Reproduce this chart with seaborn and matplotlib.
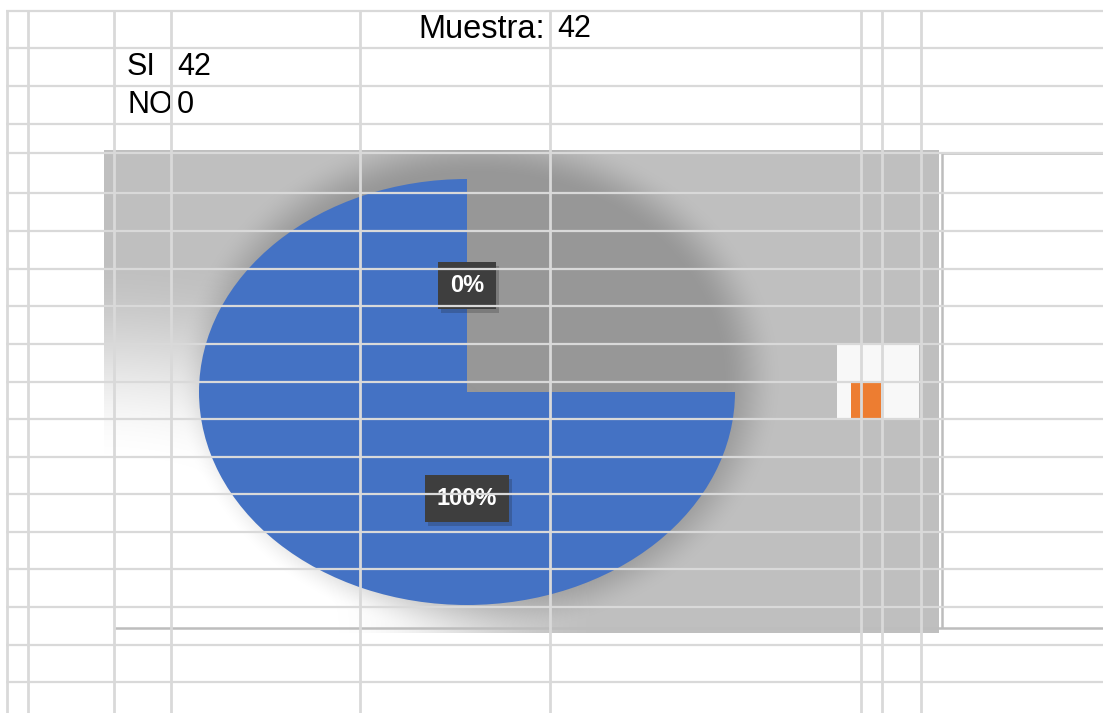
"""
Encuesta SI / NO (muestra de 42) - grafico circular sobre la hoja de calculo.
"""

import numpy as np
import matplotlib
matplotlib.use("Agg")
import matplotlib.pyplot as plt
import matplotlib.patheffects as pe
import seaborn as sns
from matplotlib.patches import Rectangle
from matplotlib.path import Path
from matplotlib.transforms import Bbox, TransformedBbox

# --- datos ---
respuestas = ["SI", "NO"]
conteos = [42, 0]
muestra = 42

# --- estilo ---
W, H = 1103, 713
sns.set_theme(style="white")
plt.rcParams["font.family"] = ["Liberation Sans", "DejaVu Sans"]
colores = ["#4472C4", "#ED7D31"]
gris_celda = "#d9d9d9"

# lineas de la hoja (pixeles)
filas = [11, 48, 86, 124, 153, 193, 231, 269, 306, 344, 382, 419,
         457, 494, 532, 569, 607, 645, 682]
columnas = [7, 28, 114, 171, 360, 550, 861, 882, 921]

# area del grafico y elipse del pastel (pixeles)
x0, x1, y0, y1 = 104, 939, 150, 633
cx, cy, rx, ry = 467, 392, 268, 213

fig = plt.figure(figsize=(W / 100, H / 100), dpi=100)
fig.patch.set_facecolor("white")

# --- fondo: marco, degradado y sombra ---
ax_bg = fig.add_axes([0, 0, 1, 1], zorder=0)
ax_bg.axis("off")

marco = dict(color="#bdbdbd", lw=1.8, solid_capstyle="butt")
ax_bg.plot([942, W], [153, 153], **marco)
ax_bg.plot([942, 942], [153, 628], **marco)
ax_bg.plot([115, W], [628, 628], **marco)


def suave(a, b, t):
    t = np.clip((t - a) / (b - a), 0, 1)
    return t * t * (3 - 2 * t)


X, Y = np.meshgrid(np.arange(x0, x1) + 0.5, np.arange(y0, y1) + 0.5)
d = np.hypot((X - x0) / 500, (y1 - Y) / 380)
a_bg = suave(0.45, 1.0, d)
r = np.hypot((X - cx - 12) / rx, (Y - cy + 12) / (ry + 14))
a_sh = 0.21 * (1 - suave(0.9, 1.13, r))
alpha = a_sh + a_bg * (1 - a_sh)
gris = 0.75 * a_bg * (1 - a_sh) / np.maximum(alpha, 1e-6)
img = np.dstack([gris, gris, gris, alpha])
ax_bg.imshow(img, extent=(x0, x1, y1, y0), interpolation="bilinear")

# leyenda (solo se ve la marca de NO)
ax_bg.add_patch(Rectangle((837, 345), 82, 73, color="#f8f8f8", lw=0))
ax_bg.add_patch(Rectangle((851, 383), 30, 35, color=colores[1], lw=0))

ax_bg.set_xlim(0, W)
ax_bg.set_ylim(H, 0)
ax_bg.set_aspect("auto")

# --- pastel ---
ax_pie = fig.add_axes([(cx - rx) / W, (H - cy - ry) / H, 2 * rx / W, 2 * ry / H], zorder=1)
wedges, textos, pcts = ax_pie.pie(
    conteos, colors=colores, startangle=90, counterclock=True,
    autopct="%1.0f%%", pctdistance=0.5,
    wedgeprops=dict(linewidth=0, edgecolor="none"),
    textprops=dict(color="white", fontsize=17, fontweight="bold"),
)
ax_pie.set_xlim(-1, 1)
ax_pie.set_ylim(-1, 1)
ax_pie.set_aspect("auto")
ax_pie.axis("off")

# el cuadrante superior derecho no se pinto en el original
vert = [(0, 0), (0, 1.1), (-1.1, 1.1), (-1.1, -1.1), (1.1, -1.1), (1.1, 0), (0, 0)]
recorte = Path(vert, closed=True)
for w in wedges:
    w.set_clip_on(True)
    w.set_clip_path(recorte, ax_pie.transData)

for t in pcts:
    t.set_bbox(dict(boxstyle="square,pad=0.5", fc="#3e3e3e", ec="none"))
    t.get_bbox_patch().set_path_effects(
        [pe.SimplePatchShadow(offset=(2, -3), shadow_rgbFace="k", alpha=0.22), pe.Normal()])

# --- cuadricula y celdas ---
ax_g = fig.add_axes([0, 0, 1, 1], zorder=2)
ax_g.axis("off")
ax_g.set_xlim(0, W)
ax_g.set_ylim(H, 0)
ax_g.hlines(filas, 6, W, color=gris_celda, lw=1.6)
ax_g.vlines(columnas, 11, H, color=gris_celda, lw=2)

fs = 22
ax_g.text(545, 29, "Muestra:", ha="right", va="center", fontsize=23.5, color="black")
ax_g.text(557, 29, str(muestra), ha="left", va="center", fontsize=fs, color="black")
for i, (resp, n) in enumerate(zip(respuestas, conteos)):
    y = 67 + 38 * i
    t = ax_g.text(127, y, resp, ha="left", va="center", fontsize=fs, color="black")
    t.set_clip_box(TransformedBbox(Bbox.from_extents(0, 0, 170, H), ax_g.transData))
    t.set_clip_on(True)
    ax_g.text(177, y, str(n), ha="left", va="center", fontsize=fs, color="black")

plt.savefig("out.png", dpi=100)
plt.close()
